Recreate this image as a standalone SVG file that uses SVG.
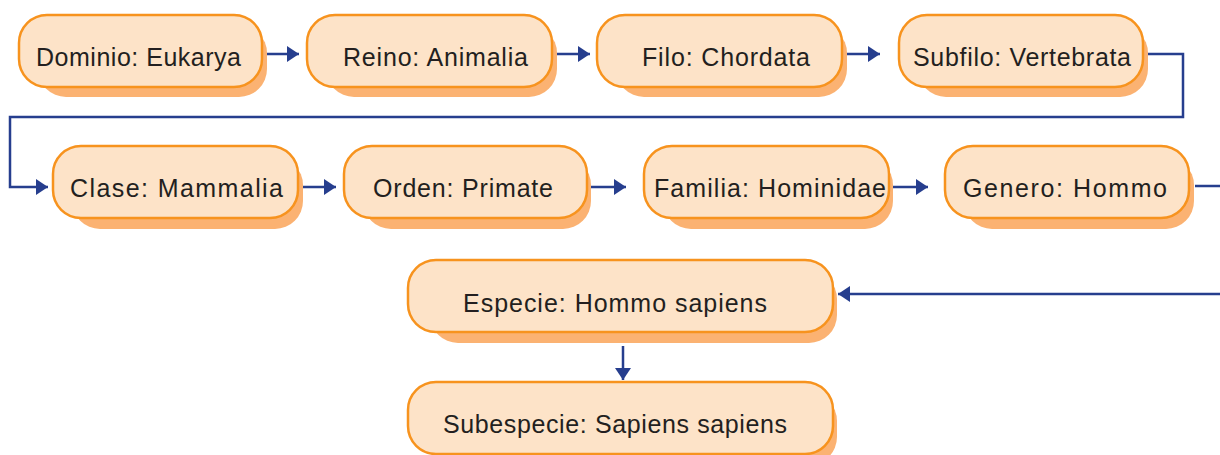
<svg xmlns="http://www.w3.org/2000/svg" width="1220" height="455" viewBox="0 0 1220 455">
  <defs>
    <style>
      .shadow { fill: #FBB272; }
      .box { fill: #FDE3C8; stroke: #F7931E; stroke-width: 2.5; }
      .label { font-family: "Liberation Sans", Arial, sans-serif; font-size: 25px; fill: #231F20; }
      .conn { fill: none; stroke: #263E8E; stroke-width: 2.5; }
    </style>
    <marker id="arrow" viewBox="0 0 12 16" refX="12" refY="8" markerWidth="12" markerHeight="16" markerUnits="userSpaceOnUse" orient="auto">
      <path d="M0,0 L12,8 L0,16 Z" fill="#263E8E"/>
    </marker>
  </defs>

  <!-- connectors -->
  <g id="connectors">
    <path class="conn" d="M264,54 H299" marker-end="url(#arrow)"/>
    <path class="conn" d="M555,54 H590" marker-end="url(#arrow)"/>
    <path class="conn" d="M845,54 H880" marker-end="url(#arrow)"/>
    <path class="conn" d="M1147,54 H1183 V117 H10 V187 H48" marker-end="url(#arrow)"/>
    <path class="conn" d="M300,187 H336" marker-end="url(#arrow)"/>
    <path class="conn" d="M591,187 H626" marker-end="url(#arrow)"/>
    <path class="conn" d="M893,187 H928" marker-end="url(#arrow)"/>
    <path class="conn" d="M1195,186 H1230 V294 H838" marker-end="url(#arrow)"/>
    <path class="conn" d="M623,346 V380" marker-end="url(#arrow)"/>
  </g>

  <!-- row 1 -->
  <g id="dominio">
    <rect class="shadow" x="38" y="25" width="229" height="72" rx="28"/>
    <rect class="box" x="19" y="15" width="243" height="72" rx="28"/>
    <text class="label" x="36" y="66" textLength="205">Dominio: Eukarya</text>
  </g>
  <g id="reino">
    <rect class="shadow" x="326" y="25" width="231" height="72" rx="28"/>
    <rect class="box" x="307" y="15" width="245" height="72" rx="28"/>
    <text class="label" x="343" y="66" textLength="185">Reino: Animalia</text>
  </g>
  <g id="filo">
    <rect class="shadow" x="616" y="25" width="231" height="72" rx="28"/>
    <rect class="box" x="597" y="15" width="245" height="72" rx="28"/>
    <text class="label" x="642" y="66" textLength="168">Filo: Chordata</text>
  </g>
  <g id="subfilo">
    <rect class="shadow" x="918" y="25" width="230" height="72" rx="28"/>
    <rect class="box" x="899" y="15" width="244" height="72" rx="28"/>
    <text class="label" x="913" y="66" textLength="218">Subfilo: Vertebrata</text>
  </g>

  <!-- row 2 -->
  <g id="clase">
    <rect class="shadow" x="72" y="157" width="231" height="72" rx="28"/>
    <rect class="box" x="53" y="146" width="245" height="72" rx="28"/>
    <text class="label" x="70" y="197" textLength="213">Clase: Mammalia</text>
  </g>
  <g id="orden">
    <rect class="shadow" x="363" y="157" width="228" height="72" rx="28"/>
    <rect class="box" x="344" y="146" width="243" height="72" rx="28"/>
    <text class="label" x="373" y="197" textLength="180">Orden: Primate</text>
  </g>
  <g id="familia">
    <rect class="shadow" x="663" y="157" width="230" height="72" rx="28"/>
    <rect class="box" x="644" y="146" width="245" height="72" rx="28"/>
    <text class="label" x="654" y="197" textLength="232">Familia: Hominidae</text>
  </g>
  <g id="genero">
    <rect class="shadow" x="964" y="157" width="230" height="72" rx="28"/>
    <rect class="box" x="945" y="146" width="244" height="72" rx="28"/>
    <text class="label" x="963" y="197" textLength="204">Genero: Hommo</text>
  </g>

  <!-- species -->
  <g id="especie">
    <rect class="shadow" x="430" y="271" width="407" height="72" rx="28"/>
    <rect class="box" x="408" y="260" width="425" height="72" rx="28"/>
    <text class="label" x="463" y="312" textLength="304">Especie: Hommo sapiens</text>
  </g>
  <g id="subespecie">
    <rect class="shadow" x="430" y="393" width="407" height="72" rx="28"/>
    <rect class="box" x="408" y="382" width="425" height="72" rx="28"/>
    <text class="label" x="443" y="433" textLength="344">Subespecie: Sapiens sapiens</text>
  </g>
</svg>
